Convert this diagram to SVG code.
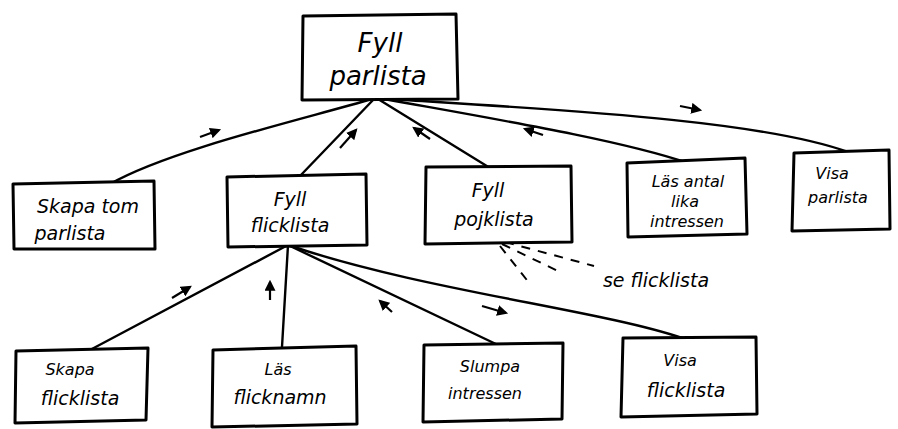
<svg xmlns="http://www.w3.org/2000/svg" width="898" height="429" viewBox="0 0 898 429">
  <defs>
    <marker id="head" viewBox="0 0 10 10" refX="8" refY="5" markerWidth="5" markerHeight="5" orient="auto">
      <path d="M0,0 L10,5 L0,10 z" fill="#000"/>
    </marker>
    <style>
      .box { fill: #fff; stroke: #000; stroke-width: 3; stroke-linejoin: round; }
      .line { fill: none; stroke: #000; stroke-width: 2.4; stroke-linecap: round; }
      .dash { fill: none; stroke: #000; stroke-width: 2; stroke-dasharray: 9 8; }
      .flow { fill: none; stroke: #000; stroke-width: 2.2; marker-end: url(#head); }
      .lbl { font-family: "DejaVu Sans", "Liberation Sans", sans-serif; font-style: italic; fill: #000; text-anchor: middle; }
      .big { font-size: 26px; }
      .mid { font-size: 19px; }
      .sm { font-size: 16px; }
    </style>
  </defs>
  <rect width="898" height="429" fill="#fff"/>

  <!-- connectors -->
  <g id="connectors">
    <path class="line" d="M372,99 C300,120 170,150 110,184"/>
    <path class="line" d="M374,99 L300,176"/>
    <path class="line" d="M378,99 L490,168"/>
    <path class="line" d="M384,99 C500,120 620,140 688,163"/>
    <path class="line" d="M390,99 C560,110 760,120 848,152"/>
    <path class="line" d="M288,245 L90,350"/>
    <path class="line" d="M288,245 L282,347"/>
    <path class="line" d="M288,245 L498,345"/>
    <path class="line" d="M288,245 C420,290 600,310 682,338"/>
    <path class="dash" d="M500,246 L530,284"/>
    <path class="dash" d="M502,244 L560,272"/>
    <path class="dash" d="M505,242 L594,266"/>
    <!-- flow arrows -->
    <path class="flow" d="M200,137 L219,130"/>
    <path class="flow" d="M340,148 L356,130"/>
    <path class="flow" d="M430,139 L414,128"/>
    <path class="flow" d="M543,135 L525,129"/>
    <path class="flow" d="M680,106 L700,110"/>
    <path class="flow" d="M172,298 L190,287"/>
    <path class="flow" d="M270,300 L270,282"/>
    <path class="flow" d="M392,312 L380,301"/>
    <path class="flow" d="M482,306 L506,313"/>
  </g>

  <g id="fyll-parlista">
    <path class="box" d="M303,16 L456,14 L458,99 L302,100 Z"/>
    <text class="lbl big" x="380" y="52">Fyll</text>
    <text class="lbl big" x="378" y="85">parlista</text>
  </g>

  <g id="skapa-tom-parlista">
    <path class="box" d="M13,184 L154,181 L155,249 L14,249 Z"/>
    <text class="lbl mid" x="88" y="213">Skapa tom</text>
    <text class="lbl mid" x="70" y="240">parlista</text>
  </g>

  <g id="fyll-flicklista">
    <path class="box" d="M227,177 L366,174 L367,245 L228,247 Z"/>
    <text class="lbl mid" x="290" y="206">Fyll</text>
    <text class="lbl mid" x="290" y="232">flicklista</text>
  </g>

  <g id="fyll-pojklista">
    <path class="box" d="M426,167 L571,166 L572,242 L425,244 Z"/>
    <text class="lbl mid" x="488" y="197">Fyll</text>
    <text class="lbl mid" x="494" y="226">pojklista</text>
  </g>

  <g id="las-antal">
    <path class="box" d="M627,163 L745,158 L747,234 L628,237 Z"/>
    <text class="lbl sm" x="688" y="187">Läs antal</text>
    <text class="lbl sm" x="685" y="207">lika</text>
    <text class="lbl sm" x="687" y="227">intressen</text>
  </g>

  <g id="visa-parlista">
    <path class="box" d="M794,153 L889,150 L890,229 L792,231 Z"/>
    <text class="lbl sm" x="832" y="179">Visa</text>
    <text class="lbl sm" x="838" y="203">parlista</text>
  </g>

  <g id="skapa-flicklista">
    <path class="box" d="M16,351 L148,348 L146,420 L15,423 Z"/>
    <text class="lbl sm" x="70" y="375">Skapa</text>
    <text class="lbl mid" x="80" y="405">flicklista</text>
  </g>

  <g id="las-flicknamn">
    <path class="box" d="M213,350 L356,346 L357,424 L212,427 Z"/>
    <text class="lbl sm" x="278" y="375">Läs</text>
    <text class="lbl mid" x="280" y="404">flicknamn</text>
  </g>

  <g id="slumpa-intressen">
    <path class="box" d="M424,345 L563,343 L562,419 L423,422 Z"/>
    <text class="lbl sm" x="490" y="372">Slumpa</text>
    <text class="lbl sm" x="485" y="399">intressen</text>
  </g>

  <g id="visa-flicklista">
    <path class="box" d="M623,338 L756,337 L757,414 L621,417 Z"/>
    <text class="lbl sm" x="680" y="366">Visa</text>
    <text class="lbl mid" x="686" y="397">flicklista</text>
  </g>

  <text class="lbl mid" x="656" y="287">se flicklista</text>
</svg>
